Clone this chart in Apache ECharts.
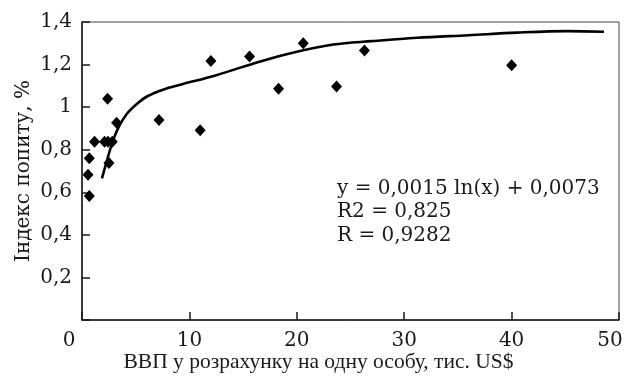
<!DOCTYPE html>
<html>
<head>
<meta charset="utf-8">
<script src="https://cdn.jsdelivr.net/npm/echarts@6/dist/echarts.min.js"></script>
<style>
  html, body { margin: 0; padding: 0; background: #fff; }
  #chart { width: 624px; height: 376px; }
</style>
</head>
<body>
<div id="chart"></div>
<script>
// GDP per capita, thousand US$
const gdpValues = [0.68, 0.56, 0.68, 1.17, 2.1, 2.42, 2.82, 2.38, 3.22, 2.51, 7.17, 11.0, 12.0, 15.6, 18.3, 20.6, 23.7, 26.3, 40.0];
// demand index, %
const demandValues = [0.582, 0.682, 0.76, 0.838, 0.838, 0.838, 0.838, 1.039, 0.927, 0.738, 0.94, 0.891, 1.217, 1.238, 1.086, 1.30, 1.097, 1.266, 1.197];
// trend line
const trendX = [1.86, 2.3, 2.8, 3.4, 4.2, 5.1, 6.05, 7.6, 9.15, 12.5, 16.6, 20, 23.4, 27, 31.2, 36, 40.5, 45.2, 48.6];
const trendY = [0.665, 0.745, 0.83, 0.905, 0.97, 1.015, 1.05, 1.083, 1.105, 1.15, 1.215, 1.26, 1.294, 1.31, 1.326, 1.338, 1.35, 1.357, 1.354];
const equationLines = ['y = 0,0015 ln(x) + 0,0073', 'R2 = 0,825', 'R = 0,9282'];

const font = 'DejaVu Serif';
const fontSize = 20;
const chart = echarts.init(document.getElementById('chart'), null, { renderer: 'canvas' });

const fmt = v => String(+v.toFixed(1)).replace('.', ',');
const labelStyle = { fontFamily: font, fontSize: fontSize, color: '#1a1a1a' };

const option = {
	animation: false,
	grid: {
		left: 82,
		top: 22,
		right: 5,
		bottom: 56,
		outerBoundsMode: 'none',
		containLabel: false,
		show: true,
		borderColor: '#444',
		borderWidth: 1,
	},
	xAxis: {
		type: 'value',
		min: 0,
		max: 50,
		interval: 10,
		name: 'ВВП у розрахунку на одну особу, тис. US$',
		nameLocation: 'middle',
		nameGap: 31,
		nameMoveOverlap: false,
		nameTextStyle: { fontFamily: 'Liberation Serif', fontSize: 21.5, color: '#1a1a1a', padding: [0, 64, 0, 0] },
		axisLine: { lineStyle: { color: '#1a1a1a', width: 1.5 } },
		axisTick: { inside: true, length: 8, lineStyle: { color: '#1a1a1a', width: 1.5 } },
		splitLine: { show: false },
		axisLabel: {
			...labelStyle,
			margin: 11,
			formatter: v => (v === 0 ? '{z|0}' : v === 50 ? '{e|50}' : String(v)),
			rich: {
				z: { ...labelStyle, padding: [0, 26, 0, 0] },
				e: { ...labelStyle, padding: [0, 18, 0, 0] },
			},
		},
	},
	yAxis: {
		type: 'value',
		min: 0,
		max: 1.4,
		interval: 0.2,
		name: 'Індекс попиту, %',
		nameLocation: 'middle',
		nameGap: 48,
		nameMoveOverlap: false,
		nameTextStyle: labelStyle,
		axisLine: { show: true, lineStyle: { color: '#1a1a1a', width: 1.5 } },
		axisTick: { show: true, inside: true, length: 8, lineStyle: { color: '#1a1a1a', width: 1.5 } },
		splitLine: { show: false },
		axisLabel: {
			...labelStyle,
			margin: 10,
			formatter: v => (v === 0 ? '' : fmt(v)),
		},
	},
	series: [
		{
			type: 'scatter',
			symbol: 'diamond',
			symbolSize: [11, 12],
			itemStyle: { color: '#000', opacity: 1 },
			data: gdpValues.map((x, i) => [x, demandValues[i]]),
			z: 3,
		},
		{
			type: 'line',
			smooth: 0.35,
			showSymbol: false,
			lineStyle: { color: '#000', width: 2.6 },
			data: trendX.map((x, i) => [x, trendY[i]]),
			z: 2,
		},
	],
	graphic: [
		{
			type: 'text',
			left: 337,
			top: 177,
			style: {
				text: equationLines.join('\n'),
				fontFamily: font,
				fontSize: fontSize,
				lineHeight: 23.5,
				fill: '#1a1a1a',
			},
		},
	],
};

chart.setOption(option);
</script>
</body>
</html>
